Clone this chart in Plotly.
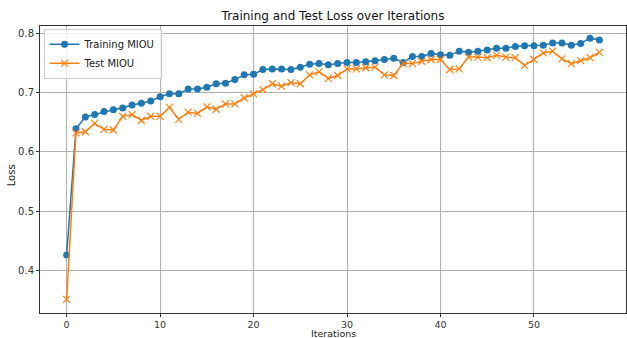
import plotly.graph_objects as go

iterations = list(range(58))
train_miou = [0.426, 0.639, 0.659, 0.663, 0.668, 0.671, 0.674, 0.679, 0.682, 0.686,
              0.693, 0.698, 0.698, 0.706, 0.706, 0.709, 0.715, 0.716, 0.722, 0.730,
              0.731, 0.739, 0.740, 0.740, 0.739, 0.743, 0.748, 0.749, 0.747, 0.749,
              0.751, 0.751, 0.752, 0.754, 0.756, 0.758, 0.751, 0.761, 0.761, 0.766,
              0.764, 0.763, 0.770, 0.768, 0.770, 0.772, 0.775, 0.775, 0.778, 0.779,
              0.779, 0.780, 0.784, 0.784, 0.780, 0.783, 0.792, 0.789]
test_miou = [0.351, 0.632, 0.634, 0.648, 0.638, 0.637, 0.660, 0.663, 0.653, 0.660,
             0.660, 0.675, 0.655, 0.667, 0.665, 0.676, 0.672, 0.681, 0.681, 0.691,
             0.698, 0.705, 0.715, 0.711, 0.717, 0.715, 0.730, 0.735, 0.724, 0.729,
             0.740, 0.740, 0.742, 0.743, 0.730, 0.729, 0.749, 0.749, 0.753, 0.756,
             0.756, 0.739, 0.740, 0.760, 0.760, 0.759, 0.763, 0.760, 0.759, 0.746,
             0.756, 0.767, 0.770, 0.757, 0.749, 0.754, 0.759, 0.768]

fig = go.Figure()
fig.add_trace(go.Scatter(x=iterations, y=train_miou, mode="lines+markers",
                         name="Training MIOU",
                         line=dict(color="#1f77b4", width=1.5),
                         marker=dict(symbol="circle", size=7, color="#1f77b4")))
fig.add_trace(go.Scatter(x=iterations, y=test_miou, mode="lines+markers",
                         name="Test MIOU",
                         line=dict(color="#ff7f0e", width=1.5),
                         marker=dict(symbol="x-thin", size=7,
                                     line=dict(color="#ff7f0e", width=1.2),
                                     color="#ff7f0e")))

axis_common = dict(showline=True, linecolor="#333333", linewidth=1, mirror=True,
                   ticks="outside", ticklen=3, tickcolor="#333333",
                   showgrid=True, gridcolor="#b0b0b0", gridwidth=0.8,
                   zeroline=False, automargin=False)

fig.update_layout(
    width=627, height=338,
    margin=dict(l=40, r=1, t=26, b=25, autoexpand=False),
    paper_bgcolor="white", plot_bgcolor="white",
    font=dict(family="DejaVu Sans", size=10, color="#222222"),
    title=dict(text="Training and Test Loss over Iterations",
               x=(40 + 626) / 2 / 627, xanchor="center", y=1 - 16 / 338, yanchor="middle",
               font=dict(size=12, color="#111111")),
    xaxis=dict(range=[-2.85, 59.85], tickvals=[0, 10, 20, 30, 40, 50],
               tickfont=dict(size=9.5, color="#333333"), **axis_common),
    yaxis=dict(range=[0.328, 0.8125], tickvals=[0.4, 0.5, 0.6, 0.7, 0.8],
               tickformat=".1f", tickfont=dict(size=10, color="#333333"), **axis_common),
    legend=dict(x=0.006, y=0.99, xanchor="left", yanchor="top",
                bgcolor="rgba(255,255,255,0.8)", bordercolor="#cccccc", borderwidth=1,
                font=dict(size=10, color="#222222"), tracegroupgap=0,
                itemwidth=30),
    showlegend=True,
    annotations=[
        dict(text="Iterations", xref="paper", yref="paper", x=0.5, y=-(333 - 312.7) / 287,
             xanchor="center", yanchor="middle", showarrow=False,
             font=dict(size=9.5, color="#222222")),
        dict(text="Loss", xref="paper", yref="paper", x=-(40 - 11) / 586, y=(312.7 - 175) / 287,
             xanchor="center", yanchor="middle", showarrow=False, textangle=-90,
             font=dict(size=10, color="#222222")),
    ],
)

fig.write_html("out.html", config={"responsive": False, "displayModeBar": False},
               post_script="document.body.style.margin='0';document.body.style.overflow='hidden';")
